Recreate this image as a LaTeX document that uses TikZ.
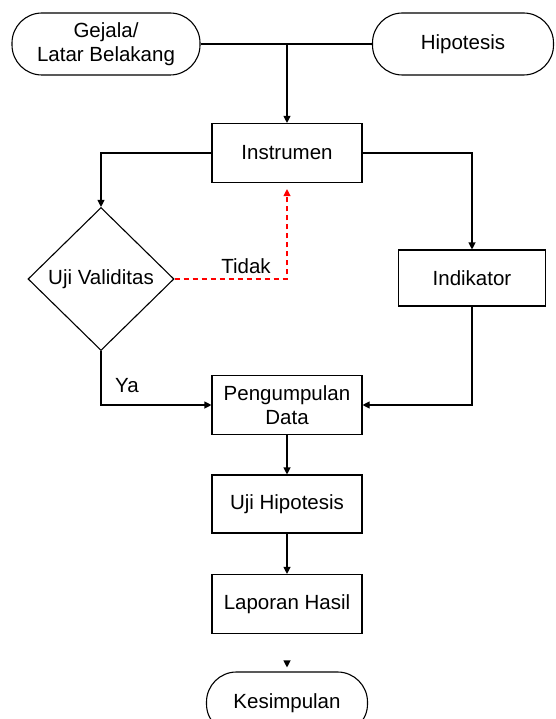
\documentclass[tikz,border=0pt]{standalone}
\usepackage{fontspec}
\setmainfont{Liberation Sans}
\usetikzlibrary{arrows.meta,shapes.geometric}
\tikzset{
	terminal/.style={draw, rounded corners=30pt, minimum width=178pt, minimum height=62pt, align=center, inner sep=0pt},
	prosesbox/.style={draw, minimum width=150pt, minimum height=59pt, align=center, inner sep=0pt},
	keputusan/.style={draw, diamond, minimum width=146pt, minimum height=143pt, inner sep=0pt},
	arr/.style={-{Triangle[length=7pt,width=7pt]}},
}
\begin{document}
\begin{tikzpicture}[x=1pt, y=-1pt, line width=1.1pt, font=\fontsize{20.5}{23.5}\selectfont]
	\useasboundingbox (0,0) rectangle (555,719);
	% start
	\node[terminal, minimum width=188pt] (gejala) at (106,44) {Gejala/\\Latar Belakang};
	\node[terminal, minimum width=181pt] (hipotesis) at (463,44) {Hipotesis};
	% main column
	\node[prosesbox] (instrumen) at (287,153) {Instrumen};
	\node[keputusan] (uji) at (101,279) {Uji Validitas};
	\node[prosesbox, minimum width=147pt, minimum height=56pt] (indikator) at (472,278) {Indikator};
	\node[prosesbox] (data) at (287,405) {Pengumpulan\\Data};
	\node[prosesbox, minimum height=58pt] (ujihip) at (287,504) {Uji Hipotesis};
	\node[prosesbox] (laporan) at (287,604) {Laporan Hasil};
	\node[terminal, minimum width=161pt] (kesimpulan) at (287,703) {Kesimpulan};
	% connectors
	\draw (gejala.east) -- (hipotesis.west);
	\coordinate (gabung) at (instrumen.north |- gejala.east);
	\draw[arr] (gabung) -- (instrumen.north);
	\draw[arr] (instrumen.west) -| (uji.north);
	\draw[arr] (instrumen.east) -| (indikator.north);
	\draw[arr, red, dashed, dash pattern=on 5pt off 4pt, shorten >=6pt] (uji.east) -| (instrumen.south);
	\node at (246,266) {Tidak};
	\draw[arr] (uji.south) |- (data.west);
	\node at (127,386) {Ya};
	\draw[arr] (indikator.south) |- (data.east);
	\draw[arr] (data) -- (ujihip);
	\draw[arr] (ujihip) -- (laporan);
	% stub above the end
	\coordinate (ujung) at (287,661);
	\draw[arr] (ujung) -- ([yshift=4pt]kesimpulan.north);
\end{tikzpicture}
\end{document}
